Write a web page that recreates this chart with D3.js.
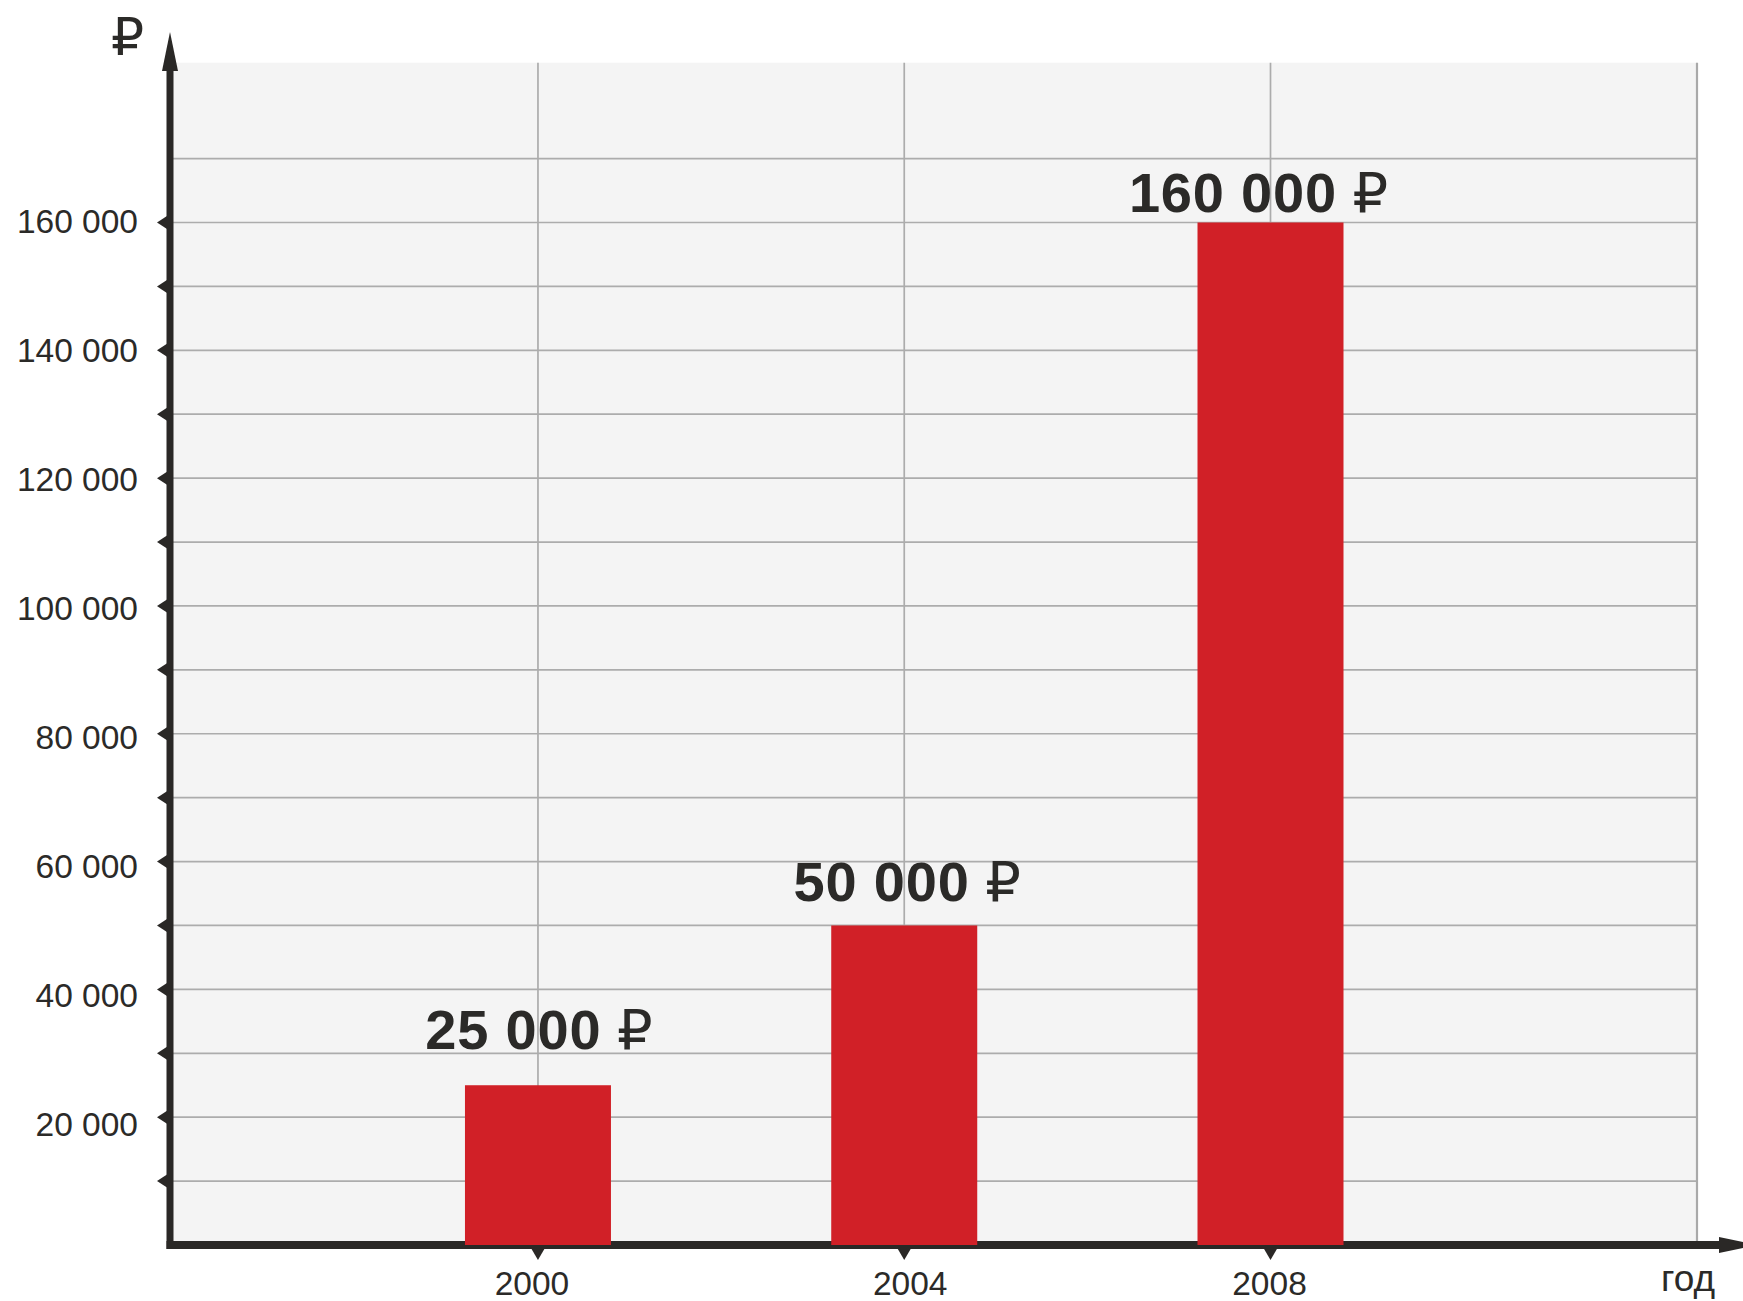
<!DOCTYPE html>
<html lang="ru">
<head>
<meta charset="utf-8">
<title>Стоимость по годам</title>
<script src="https://cdn.jsdelivr.net/npm/d3@7"></script>
<style>
  html, body { margin: 0; padding: 0; background: #ffffff; }
  svg { display: block; }
  text { font-family: "Liberation Sans", Arial, "DejaVu Sans", sans-serif; fill: #2b2a28; }
</style>
</head>
<body>
<svg id="chart" width="1743" height="1301"></svg>
<script>
// Data
const years = [2000, 2004, 2008];
const prices = [25000, 50000, 160000];
const yLabelTicks = [20000, 40000, 60000, 80000, 100000, 120000, 140000, 160000];
const yMarkTicks = [10000, 20000, 30000, 40000, 50000, 60000, 70000, 80000, 90000, 100000, 110000, 120000, 130000, 140000, 150000, 160000];
const yGridTicks = [10000, 20000, 30000, 40000, 50000, 60000, 70000, 80000, 90000, 100000, 110000, 120000, 130000, 140000, 150000, 160000, 170000];
const xTickLabels = ["2000", "2004", "2008"];
const currencySign = "₽";
const xAxisTitle = "год";

// Layout
const axisX = 170, axisY = 1245;
const plotLeft = 173, plotRight = 1697;
const barWidth = 146;
const ink = "#2a2826";
const gridColor = "#acacac";
const barColor = "#d12027";
// hand-set nudges of the value labels above the bars
const labelNudge = [{ dx: 1, lift: 36 }, { dx: 3, lift: 24 }, { dx: -12, lift: 10.5 }];
// hand-set nudges of the year labels
const yearNudge = [-6, 6, -1];

const svg = d3.select("#chart");

const x = d3.scaleLinear().domain([1996, 2008]).range([171.7, 1270.5]);
const y = d3.scaleLinear().domain([0, 160000]).range([axisY, 222.5]);
const yTop = 185000;

const ru = d3.formatLocale({ decimal: ",", thousands: "\u00a0", grouping: [3], currency: ["", " ₽"] });
const fmt = ru.format(",d");

// Plot background
svg.append("rect")
  .attr("x", plotLeft).attr("y", y(yTop))
  .attr("width", plotRight - plotLeft).attr("height", axisY - y(yTop))
  .attr("fill", "#f4f4f4");

// Horizontal grid
svg.append("g").selectAll("line").data(yGridTicks).join("line")
  .attr("x1", plotLeft).attr("x2", plotRight)
  .attr("y1", d => y(d)).attr("y2", d => y(d))
  .attr("stroke", gridColor).attr("stroke-width", 1.7);

// Vertical grid at the years
svg.append("g").selectAll("line").data(years).join("line")
  .attr("x1", d => x(d)).attr("x2", d => x(d))
  .attr("y1", y(yTop)).attr("y2", axisY)
  .attr("stroke", gridColor).attr("stroke-width", 1.7);

// Right border of the plot
svg.append("line")
  .attr("x1", plotRight).attr("x2", plotRight)
  .attr("y1", y(yTop)).attr("y2", axisY)
  .attr("stroke", "#a9a9a9").attr("stroke-width", 2.2);

// Axes lines and arrowheads
svg.append("line")
  .attr("x1", axisX).attr("x2", axisX)
  .attr("y1", axisY + 4).attr("y2", 68)
  .attr("stroke", ink).attr("stroke-width", 7);
svg.append("path")
  .attr("d", `M${axisX},32 L${axisX - 8},71 L${axisX + 8},71 Z`)
  .attr("fill", ink);

svg.append("line")
  .attr("x1", axisX - 3.5).attr("x2", 1722)
  .attr("y1", axisY).attr("y2", axisY)
  .attr("stroke", ink).attr("stroke-width", 8);
svg.append("path")
  .attr("d", `M1719,${axisY - 8} L1758,${axisY} L1719,${axisY + 8} Z`)
  .attr("fill", ink);

// Y tick marks (small triangles pointing left)
svg.append("g").selectAll("path").data(yMarkTicks).join("path")
  .attr("d", d => `M${axisX - 3},${y(d) - 6.5} L${axisX - 13},${y(d)} L${axisX - 3},${y(d) + 6.5} Z`)
  .attr("fill", ink);

// X tick marks (small triangles pointing down)
svg.append("g").selectAll("path").data(years).join("path")
  .attr("d", d => `M${x(d) - 7},${axisY + 3} L${x(d)},${axisY + 15} L${x(d) + 7},${axisY + 3} Z`)
  .attr("fill", ink);

// Y axis labels (the lower labels sit slightly below their grid lines)
const yAxis = d3.axisLeft(y).tickValues(yLabelTicks).tickFormat(fmt).tickSize(0).tickPadding(0);
const gy = svg.append("g").attr("transform", `translate(138,0)`).call(yAxis);
gy.select(".domain").remove();
gy.selectAll(".tick")
  .attr("transform", d => `translate(0,${y(d) + 7.6 * (160000 - d) / 140000})`);
gy.selectAll("text")
  .attr("font-size", 33.5)
  .attr("fill", "#2b2a28")
  .attr("font-family", "'Liberation Sans', Arial, sans-serif");

// X axis labels
const xAxis = d3.axisBottom(x).tickValues(years).tickFormat((d, i) => xTickLabels[i]).tickSize(0).tickPadding(0);
const gx = svg.append("g").attr("transform", `translate(0,1271)`).call(xAxis);
gx.select(".domain").remove();
gx.selectAll(".tick")
  .attr("transform", (d, i) => `translate(${x(d) + yearNudge[i]},0)`);
gx.selectAll("text")
  .attr("font-size", 33.5)
  .attr("fill", "#2b2a28")
  .attr("font-family", "'Liberation Sans', Arial, sans-serif");

// Axis titles
svg.append("text")
  .attr("x", 111).attr("y", 55)
  .attr("font-size", 52)
  .attr("font-family", "'Liberation Sans', 'DejaVu Sans', sans-serif")
  .text(currencySign);
svg.append("text")
  .attr("x", 1661).attr("y", 1291)
  .attr("font-size", 37)
  .text(xAxisTitle);

// Bars
svg.append("g").selectAll("rect").data(years).join("rect")
  .attr("x", d => x(d) - barWidth / 2)
  .attr("y", (d, i) => y(prices[i]))
  .attr("width", barWidth)
  .attr("height", (d, i) => y(0) - y(prices[i]))
  .attr("fill", barColor);

// Value labels
const labels = svg.append("g").selectAll("text").data(years).join("text")
  .attr("x", (d, i) => x(d) + labelNudge[i].dx)
  .attr("y", (d, i) => y(prices[i]) - labelNudge[i].lift)
  .attr("text-anchor", "middle")
  .attr("font-size", 56)
  .attr("fill", "#2b2a28");
labels.append("tspan")
  .attr("font-weight", "bold")
  .attr("letter-spacing", 0.8)
  .text((d, i) => fmt(prices[i]));
labels.append("tspan")
  .attr("font-weight", "normal")
  .attr("font-family", "'Liberation Sans', 'DejaVu Sans', sans-serif")
  .text(" " + currencySign);
</script>
</body>
</html>
